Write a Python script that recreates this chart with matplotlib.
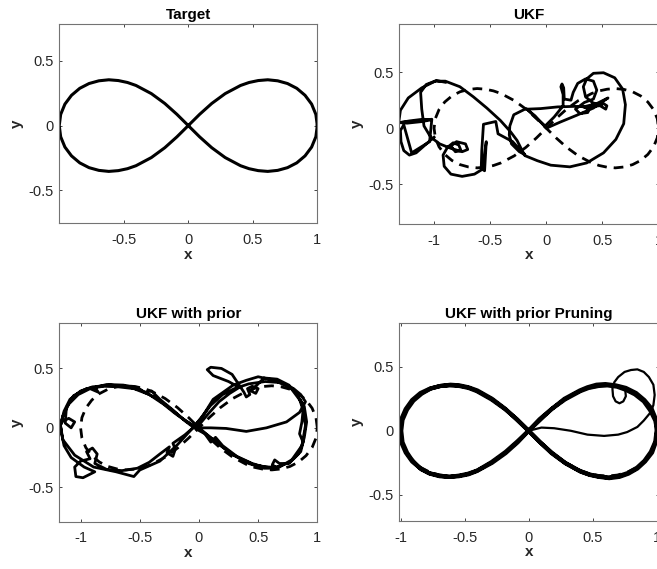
"""Trayectorias estimadas con UKF frente a la lemniscata objetivo."""

import matplotlib

matplotlib.use("Agg")
import matplotlib.pyplot as plt


target_x = [1.000, 0.989, 0.956, 0.905, 0.841, 0.769, 0.693, 0.616, 0.542, 0.471, 0.405, 0.286, 0.182, 0.088, 0.000,
            -0.088, -0.182, -0.286, -0.405, -0.471, -0.542, -0.616, -0.693, -0.769, -0.841, -0.905, -0.956, -0.989, -1.000,
            -0.989, -0.956, -0.905, -0.841, -0.769, -0.693, -0.616, -0.542, -0.471, -0.405, -0.286, -0.182, -0.088, 0.000,
            0.088, 0.182, 0.286, 0.405, 0.471, 0.542, 0.616, 0.693, 0.769, 0.841, 0.905, 0.956, 0.989, 1.000]
target_y = [0.000, 0.086, 0.166, 0.234, 0.288, 0.325, 0.346, 0.354, 0.348, 0.333, 0.310, 0.247, 0.171, 0.087, 0.000,
            -0.087, -0.171, -0.247, -0.310, -0.333, -0.348, -0.354, -0.346, -0.325, -0.288, -0.234, -0.166, -0.086, 0.000,
            0.086, 0.166, 0.234, 0.288, 0.325, 0.346, 0.354, 0.348, 0.333, 0.310, 0.247, 0.171, 0.087, 0.000,
            -0.087, -0.171, -0.247, -0.310, -0.333, -0.348, -0.354, -0.346, -0.325, -0.288, -0.234, -0.166, -0.086, 0.000]

# UKF sin prior
ukf_x = [-1.00, -1.08, -1.16, -1.22, -1.27, -1.295, -1.30, -1.27,
         -1.20, -1.12, -1.04, -1.02, -1.15, -1.25, -1.31, -1.22, -1.10, -1.03, -1.10, -1.24, -1.315,
         -1.30, -1.23, -1.11, -0.99, -0.90, -0.77, -0.65, -0.53, -0.41, -0.32, -0.26, -0.21,
         -0.19, -0.23, -0.19, -0.08, 0.04, 0.21, 0.36, 0.51, 0.62, 0.69, 0.705, 0.68, 0.61, 0.51,
         0.42, 0.36, 0.33, 0.35, 0.41, 0.48, 0.53, 0.54, 0.51, 0.47, 0.38, 0.25, 0.10, -0.05, -0.17,
         -0.09, -0.01, 0.07, 0.15, 0.15, 0.13, 0.14, 0.155, 0.16, 0.22, 0.24, 0.28, 0.35, 0.42,
         0.45, 0.42, 0.34, 0.26, 0.30, 0.37, 0.38, 0.33, 0.45, 0.55, 0.42, 0.27, 0.125, 0.00,
         -0.10, -0.18, -0.29, -0.325, -0.33, -0.31, -0.24, -0.20, -0.30, -0.43, -0.45, -0.56,
         -0.575, -0.58, -0.55, -0.535, -0.56, -0.575, -0.64, -0.75, -0.85, -0.91, -0.92, -0.88,
         -0.83, -0.78, -0.76, -0.81, -0.85, -0.80, -0.72, -0.70, -0.75, -0.85, -0.95, -1.03,
         -1.09, -1.11, -1.12, -1.07, -0.98, -0.90]
ukf_y = [-0.08, -0.15, -0.22, -0.24, -0.20, -0.12, -0.02, 0.03,
         -0.22, -0.17, -0.12, 0.08, 0.065, 0.055, 0.05, 0.065, 0.08, 0.075, 0.06, 0.045, 0.05,
         0.16, 0.27, 0.36, 0.42, 0.42, 0.37, 0.28, 0.18, 0.07, -0.03, -0.11, -0.21,
         -0.24, -0.20, -0.245, -0.29, -0.33, -0.345, -0.31, -0.22, -0.10, 0.04, 0.21, 0.35, 0.45, 0.495,
         0.49, 0.44, 0.37, 0.28, 0.23, 0.20, 0.17, 0.20, 0.22, 0.20, 0.19, 0.195, 0.19, 0.175, 0.17,
         0.09, 0.02, 0.10, 0.20, 0.30, 0.37, 0.395, 0.36, 0.26, 0.25, 0.32, 0.40, 0.44, 0.42,
         0.34, 0.26, 0.23, 0.17, 0.13, 0.14, 0.17, 0.19, 0.22, 0.27, 0.18, 0.115, 0.055, 0.00,
         0.11, 0.175, 0.12, 0.02, -0.06, -0.14, -0.21, -0.23, -0.12, -0.05, 0.06, 0.035,
         -0.20, -0.36, -0.38, -0.12, -0.30, -0.37, -0.41, -0.43, -0.41, -0.34, -0.24, -0.17,
         -0.13, -0.15, -0.20, -0.21, -0.16, -0.12, -0.14, -0.19, -0.21, -0.18, -0.14, -0.08,
         0.02, 0.17, 0.32, 0.39, 0.425, 0.41]

# UKF con prior
prior_x = [-1.17, -1.14, -1.09, -1.00, -0.90, -0.75, -0.62, -0.50, -0.36, -0.24, -0.14, -0.05,
           0.03, 0.13, 0.29, 0.46, 0.63, 0.77, 0.87, 0.90, 0.87, 0.78, 0.64, 0.50, 0.40, 0.29,
           0.12, 0.02, -0.07, -0.18, -0.33, -0.50, -0.55, -0.70, -0.89, -1.05, -1.15, -1.17,
           -1.16, -1.10, -1.05, -1.08, -1.13, -1.12, -1.06, -0.95, -0.80, -0.68, -0.55, -0.42,
           -0.30, -0.20, -0.10, -0.02, 0.08, 0.17, 0.26, 0.34, 0.25, 0.12, 0.07, 0.10, 0.19,
           0.28, 0.34, 0.38, 0.40, 0.43, 0.41, 0.45, 0.50, 0.48, 0.44, 0.55, 0.66, 0.76, 0.84,
           0.88, 0.87, 0.85, 0.88, 0.84, 0.76, 0.68, 0.64, 0.62, 0.66, 0.55, 0.42, 0.28, 0.16,
           0.06, 0.00, 0.10, 0.23, 0.40, 0.57, 0.74, 0.85, 0.90, 0.86, 0.80, 0.70, 0.56, 0.42,
           0.30, 0.20, 0.10, 0.03, -0.05, -0.12, -0.22, -0.20, -0.22, -0.27, -0.25, -0.33, -0.42,
           -0.52, -0.65, -0.78, -0.88, -0.86, -0.90, -0.95, -0.92, -1.00, -1.05, -1.04, -0.98,
           -0.88, -0.97, -1.08, -1.14, -1.16, -1.17,
           -1.15, -1.10, -1.02, -0.92, -0.85, -0.88, -0.78, -0.64, -0.52, -0.46, -0.40, -0.33,
           -0.22, -0.12, -0.04, 0.05, 0.10, 0.14, 0.20, 0.32, 0.45, 0.55, 0.68, 0.80, 0.86,
           0.89, 0.91, 0.89, 0.86]
prior_y = [0.02, 0.14, 0.24, 0.31, 0.345, 0.36, 0.35, 0.32, 0.25, 0.16, 0.08, 0.02,
           -0.03, -0.11, -0.23, -0.31, -0.34, -0.29, -0.15, 0.02, 0.21, 0.33, 0.40, 0.43, 0.40, 0.36,
           0.24, 0.08, -0.02, -0.14, -0.28, -0.355, -0.41, -0.37, -0.33, -0.23, -0.10, 0.02,
           0.05, 0.08, 0.05, 0.00, 0.04, 0.17, 0.27, 0.33, 0.35, 0.345, 0.33, 0.28,
           0.20, 0.12, 0.05, 0.00, 0.12, 0.22, 0.29, 0.34, 0.39, 0.44, 0.49, 0.51, 0.50,
           0.45, 0.36, 0.30, 0.26, 0.28, 0.33, 0.35, 0.33, 0.29, 0.31, 0.42, 0.41, 0.36, 0.27,
           0.15, 0.05, -0.05, -0.12, -0.22, -0.30, -0.30, -0.27, -0.31, -0.34, -0.34, -0.30, -0.22, -0.13,
           -0.05, 0.00, 0.00, -0.005, -0.03, 0.00, 0.05, 0.13, 0.22, 0.28, 0.33, 0.38, 0.39, 0.37,
           0.33, 0.28, 0.19, 0.10, 0.00, -0.06, -0.13, -0.18, -0.24, -0.21, -0.16, -0.22, -0.29,
           -0.34, -0.36, -0.35, -0.30, -0.22, -0.17, -0.20, -0.26, -0.28, -0.33, -0.41, -0.42,
           -0.37, -0.33, -0.25, -0.15, -0.05, 0.02,
           0.10, 0.20, 0.28, 0.33, 0.30, 0.34, 0.365, 0.36, 0.34, 0.30, 0.31, 0.24,
           0.15, 0.06, 0.00, -0.05, -0.12, -0.08, -0.15, -0.24, -0.30, -0.33, -0.33, -0.26, -0.20,
           -0.08, 0.05, 0.18, 0.23]

# UKF con prior y poda: dos vueltas sobre la lemniscata
prune_x = [1.005, 0.995, 0.96, 0.905, 0.84, 0.76, 0.68, 0.60, 0.53, 0.46, 0.40, 0.28, 0.18, 0.09, 0.00,
           -0.09, -0.18, -0.29, -0.40, -0.47, -0.54, -0.62, -0.70, -0.78, -0.85, -0.91, -0.96, -0.995, -1.01,
           -0.995, -0.96, -0.91, -0.845, -0.77, -0.69, -0.61, -0.54, -0.47, -0.40, -0.285, -0.18, -0.09, 0.00,
           0.09, 0.18, 0.29, 0.41, 0.48, 0.55, 0.63, 0.71, 0.78, 0.85, 0.91, 0.965, 0.995, 1.005,
           0.99, 0.95, 0.90, 0.83, 0.76, 0.69, 0.615, 0.545, 0.47, 0.405, 0.285, 0.18, 0.085, 0.00,
           -0.085, -0.18, -0.285, -0.405, -0.47, -0.545, -0.615, -0.695, -0.77, -0.84, -0.88, -0.90, -0.92, -0.95, -0.985, -0.995,
           -0.985, -0.95, -0.90, -0.835, -0.765, -0.69, -0.615, -0.54, -0.47, -0.405, -0.29, -0.185, -0.09, 0.00,
           0.085, 0.18, 0.285, 0.40, 0.47, 0.54, 0.62, 0.70, 0.775, 0.845, 0.905, 0.955, 0.99, 1.00]
prune_y = [0.00, 0.09, 0.175, 0.24, 0.295, 0.335, 0.355, 0.365, 0.36, 0.34, 0.315, 0.25, 0.17, 0.085, 0.00,
           -0.085, -0.165, -0.245, -0.31, -0.335, -0.35, -0.36, -0.35, -0.33, -0.29, -0.24, -0.17, -0.09, 0.00,
           0.09, 0.17, 0.24, 0.295, 0.33, 0.35, 0.36, 0.355, 0.34, 0.315, 0.25, 0.17, 0.085, 0.00,
           -0.09, -0.175, -0.255, -0.32, -0.345, -0.36, -0.37, -0.36, -0.335, -0.295, -0.24, -0.17, -0.085, 0.00,
           0.08, 0.16, 0.23, 0.285, 0.32, 0.345, 0.355, 0.35, 0.335, 0.31, 0.245, 0.17, 0.09, 0.00,
           -0.09, -0.175, -0.25, -0.315, -0.34, -0.355, -0.36, -0.355, -0.335, -0.30, -0.26, -0.24, -0.215, -0.17, -0.09, 0.00,
           0.085, 0.165, 0.235, 0.29, 0.33, 0.35, 0.355, 0.35, 0.335, 0.31, 0.245, 0.17, 0.09, 0.00,
           -0.085, -0.17, -0.25, -0.315, -0.34, -0.355, -0.365, -0.355, -0.33, -0.29, -0.235, -0.165, -0.085, 0.00]

# tramo suelto del panel con poda (sale del centro y hace el bucle de arriba)
prune_tail_x = [0.00, 0.10, 0.20, 0.33, 0.46, 0.59, 0.70, 0.77, 0.85, 0.90, 0.95, 0.975, 0.985, 0.975,
                0.94, 0.90, 0.85, 0.80, 0.75, 0.70, 0.67, 0.655, 0.66, 0.68, 0.71, 0.74, 0.76, 0.755,
                0.73, 0.69, 0.64]
prune_tail_y = [0.00, 0.025, 0.02, 0.00, -0.03, -0.04, -0.03, -0.01, 0.03, 0.08, 0.14, 0.20, 0.28, 0.36,
                0.42, 0.46, 0.48, 0.475, 0.46, 0.42, 0.38, 0.33, 0.27, 0.23, 0.215, 0.23, 0.27, 0.32,
                0.345, 0.355, 0.36]

TITULOS = ["Target", "UKF", "UKF with prior", "UKF with prior Pruning"]
LIMITES_X = [(-0.9995, 1.0), (-1.31, 1.0), (-1.18, 1.0), (-1.01, 1.015)]
LIMITES_Y = [(-0.755, 0.785), (-0.855, 0.93), (-0.79, 0.88), (-0.705, 0.84)]
TICKS_X = [[-0.5, 0, 0.5, 1], [-1, -0.5, 0, 0.5, 1], [-1, -0.5, 0, 0.5, 1], [-1, -0.5, 0, 0.5, 1]]
TICKS_Y = [-0.5, 0, 0.5]

# posiciones en pixeles (izq, arriba, ancho, alto) sobre 657x569
POSICIONES = [(59.3, 24.0, 258.0, 199.3), (399.3, 24.0, 259.2, 200.0),
              (59.3, 323.3, 258.0, 198.4), (399.3, 323.3, 259.2, 197.7)]

ANCHO, ALTO = 657, 569
GRIS = "#262626"


def etiqueta(valor):
    if valor == 0:
        return "0"
    if float(valor).is_integer():
        return str(int(valor))
    return f"{valor:g}"


def preparar_ejes(fig, indice):
    izq, arriba, ancho, alto = POSICIONES[indice]
    ax = fig.add_axes([izq / ANCHO, (ALTO - arriba - alto) / ALTO, ancho / ANCHO, alto / ALTO])
    ax.set_xlim(*LIMITES_X[indice])
    ax.set_ylim(*LIMITES_Y[indice])
    ax.set_xticks(TICKS_X[indice])
    ax.set_xticklabels([etiqueta(v) for v in TICKS_X[indice]])
    ax.set_yticks(TICKS_Y)
    ax.set_yticklabels([etiqueta(v) for v in TICKS_Y])
    ax.tick_params(direction="in", length=2.5, width=0.6, color=GRIS, labelcolor=GRIS,
                   labelsize=10.5, top=True, right=True)
    ax.tick_params(axis="x", pad=7)
    ax.tick_params(axis="y", pad=4)
    for spine in ax.spines.values():
        spine.set_color("0.45")
        spine.set_linewidth(0.8)
    ax.set_title(TITULOS[indice], fontsize=11, fontweight="bold", pad=3.5)
    ax.set_xlabel("x", fontsize=11, fontweight="bold", color=GRIS, labelpad=0.5)
    ax.set_ylabel("y", fontsize=11, fontweight="bold", color=GRIS, labelpad=3)
    return ax


def dibujar_objetivo(ax):
    ax.plot(target_x, target_y, color="black", linewidth=2.0, linestyle=(0, (3.5, 2.5)))


def main():
    plt.rcParams["font.family"] = ["Liberation Sans", "DejaVu Sans"]
    fig = plt.figure(figsize=(ANCHO / 100, ALTO / 100), dpi=100)

    ax = preparar_ejes(fig, 0)
    ax.plot(target_x, target_y, color="black", linewidth=2.2)

    ax = preparar_ejes(fig, 1)
    dibujar_objetivo(ax)
    ax.plot(ukf_x, ukf_y, color="black", linewidth=2.0, solid_joinstyle="round")

    ax = preparar_ejes(fig, 2)
    dibujar_objetivo(ax)
    ax.plot(prior_x, prior_y, color="black", linewidth=2.0, solid_joinstyle="round")

    ax = preparar_ejes(fig, 3)
    dibujar_objetivo(ax)
    ax.plot(prune_x, prune_y, color="black", linewidth=3.0, solid_joinstyle="round")
    ax.plot(prune_tail_x, prune_tail_y, color="black", linewidth=1.6, solid_joinstyle="round")

    fig.savefig("out.png", dpi=100)
    plt.close(fig)


if __name__ == "__main__":
    main()
